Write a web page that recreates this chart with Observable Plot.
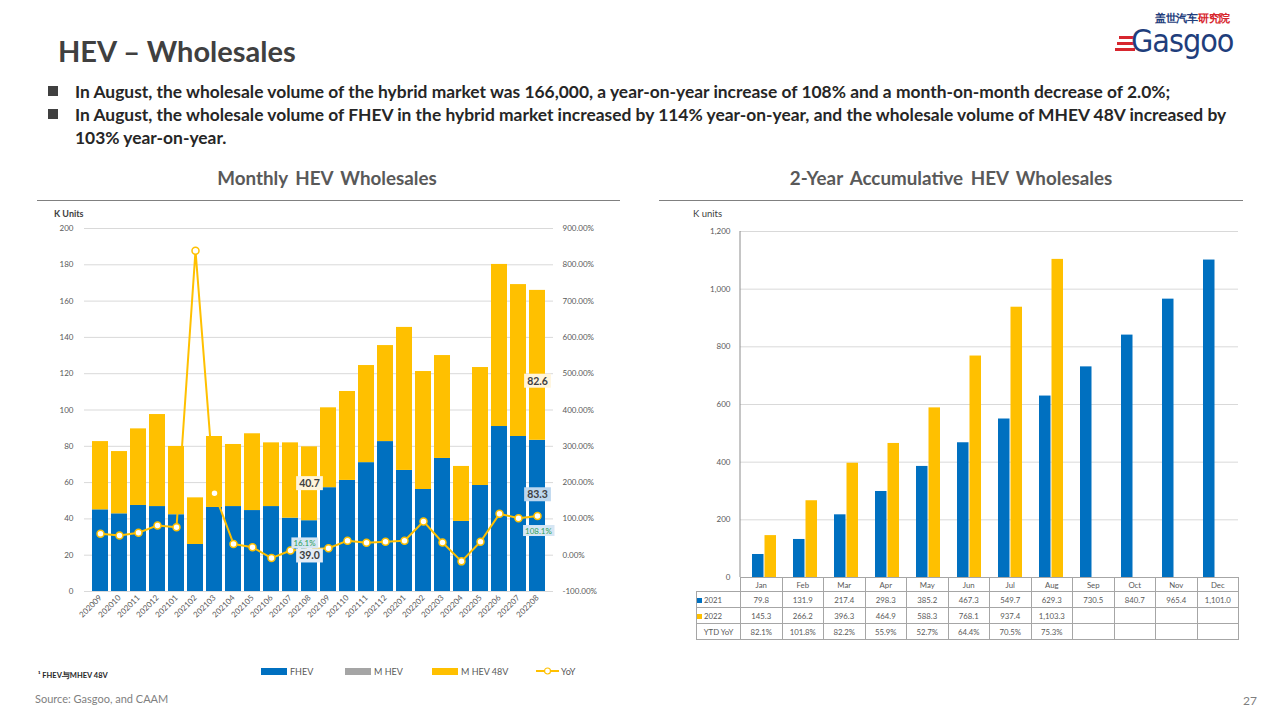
<!DOCTYPE html>
<html><head><meta charset="utf-8">
<script src="https://cdn.jsdelivr.net/npm/d3@7"></script>
<script src="https://cdn.jsdelivr.net/npm/@observablehq/plot@0.6"></script>
<style>
body{margin:0;background:#fff;font-family:Lato,"Open Sans",sans-serif;}
#page{position:relative;width:1280px;height:720px;overflow:hidden;background:#fff;}
.abs{position:absolute;white-space:nowrap;}
.sq{position:absolute;width:10px;height:10px;background:#404040;}
.sechead{position:absolute;transform:translateX(-50%);font-size:18.8px;line-height:1;font-weight:700;color:#595959;word-spacing:3px;}
.hline{position:absolute;height:0;border-top:1.5px solid #808080;}
table.tb{position:absolute;border-collapse:collapse;table-layout:fixed;font-size:7.8px;color:#595959;}
table.tb td{border:1px solid #a6a6a6;text-align:center;padding:0;height:15px;}
table.tb tr.hd td{height:13px;}
.key{display:inline-block;width:5px;height:5px;margin-right:2px;vertical-align:middle;}
.leg{position:absolute;font-size:9px;color:#595959;top:666px;}
.sw{position:absolute;height:7px;width:26px;top:668px;}
</style></head>
<body><div id="page">
  <div class="abs" style="left:58px;top:36px;font-size:29px;line-height:1;font-weight:700;color:#404040;">HEV – Wholesales</div>
  <div class="abs" style="left:1155px;top:12px;font-size:11px;line-height:1;font-weight:700;color:#1f3e7c;letter-spacing:-0.3px;">盖世汽车<span style="color:#d7262e">研究院</span></div>
  <div class="abs" style="left:1119px;top:36px;width:16px;height:3px;background:#d7262e;"></div>
  <div class="abs" style="left:1117px;top:42px;width:18px;height:3px;background:#d7262e;"></div>
  <div class="abs" style="left:1115px;top:48px;width:20px;height:3px;background:#d7262e;"></div>
  <div class="abs" style="left:1131px;top:25px;font-size:32px;line-height:1;color:#1f3e7c;font-family:'DejaVu Sans Condensed','Liberation Sans Narrow',sans-serif;letter-spacing:-1px;">Gasgoo</div>

  <div class="sq" style="left:48px;top:86px;"></div>
  <div class="sq" style="left:48px;top:109px;"></div>
  <div class="abs" style="left:75px;top:80px;font-size:17.4px;line-height:23px;font-weight:700;color:#262626;">In August, the wholesale volume of the hybrid market was 166,000, a year-on-year increase of 108% and a month-on-month decrease of 2.0%;<br>In August, the wholesale volume of FHEV in the hybrid market increased by 114% year-on-year, and the wholesale volume of MHEV 48V increased by<br>103% year-on-year.</div>

  <div class="sechead" style="left:327px;top:169px;">Monthly HEV Wholesales</div>
  <div class="sechead" style="left:951px;top:169px;">2-Year Accumulative HEV Wholesales</div>
  <div class="hline" style="left:37px;width:583px;top:200px;"></div>
  <div class="hline" style="left:659px;width:584px;top:200px;"></div>

  <div class="abs" style="left:54px;top:208px;font-size:9px;font-weight:700;color:#404040;">K Units</div>
  <div class="abs" style="left:693px;top:208px;font-size:9.5px;color:#404040;">K units</div>

  <div id="left" class="abs" style="left:30px;top:205px;"></div>
  <div id="right" class="abs" style="left:660px;top:205px;"></div>
  <div id="legend"></div>
  <div id="table"></div>

  <div class="abs" style="left:38px;top:671px;font-size:7.5px;font-weight:700;color:#262626;">¹ FHEV与MHEV 48V</div>
  <div class="abs" style="left:35px;top:692px;font-size:11px;color:#7f7f7f;">Source: Gasgoo, and CAAM</div>
  <div class="abs" style="left:1243px;top:693px;font-size:12px;color:#7f7f7f;">27</div>
</div>
<script>
// ---------- data: monthly HEV wholesales (K units) ----------
const months = ["202009","202010","202011","202012","202101","202102","202103","202104","202105","202106","202107","202108",
                "202109","202110","202111","202112","202201","202202","202203","202204","202205","202206","202207","202208"];
const fhev   = [45.0,42.8,47.4,46.8,42.3,25.9,46.3,46.8,44.6,46.8,40.4,39.0,57.2,61.2,71.0,82.6,66.7,56.2,73.3,38.6,58.4,90.9,85.4,83.3];
const mhev   = [0,0,0,0,0,0,0,0,0,0,0,0,0,0,0,0,0,0,0,0,0,0,0,0];
const mhev48 = [37.6,34.3,42.2,50.7,37.6,25.7,39.1,34.2,42.3,35.1,41.5,40.7,44.0,49.0,53.5,52.9,78.8,65.0,56.7,30.3,65.0,89.3,83.7,82.6];
const yoy    = [59,54,62,82,77,839,171,31,22,-8,13,16.1,19,40,34,37,40,93,35,-17,37,114,102,108.1];
const seriesNames  = ["FHEV","MHEV","MHEV 48V"];
const seriesColors = ["#0070c0","#a5a5a5","#ffc000"];
const leftTicks  = [0,20,40,60,80,100,120,140,160,180,200];
const rightTicks = [-100,0,100,200,300,400,500,600,700,800,900];

// ---------- data: cumulative ----------
const months2 = ["Jan","Feb","Mar","Apr","May","Jun","Jul","Aug","Sep","Oct","Nov","Dec"];
const cum2021 = [79.8,131.9,217.4,298.3,385.2,467.3,549.7,629.3,730.5,840.7,965.4,1101.0];
const cum2022 = [145.3,266.2,396.3,464.9,588.3,768.1,937.4,1103.3];
const ytdYoy  = [82.1,101.8,82.2,55.9,52.7,64.4,70.5,75.3];
const yearNames = ["2021","2022"];
const cumTicks = [0,200,400,600,800,1000,1200];

const yellowLine = "#ffc000";
const toL = p => (p + 100) * 0.2;  // secondary (%) axis mapped into primary units

// ---------- left chart ----------
const stackData = months.flatMap((m,i) => [
  {month:m, series:seriesNames[0], v:fhev[i]},
  {month:m, series:seriesNames[1], v:mhev[i]},
  {month:m, series:seriesNames[2], v:mhev48[i]}
]);
const yoyData = months.map((m,i) => ({month:m, yoy:yoy[i]}));
const iA = months.indexOf("202108"), iB = months.indexOf("202208");
const lab = (i, y, t) => [{month:months[i], y, t}];

const txt = {fontSize:10.5, fontWeight:700, fill:"#404040"};
const pct = {fontSize:8, fill:"#2ea05a"};
const labelMarks = [
  ["lbl-y1", "#fff5dc", 3, 1, Plot.text(lab(iA, fhev[iA] + mhev48[iA]/2, mhev48[iA].toFixed(1)), {x:"month", y:"y", text:"t", ...txt, ariaDescription:"lbl-y1"})],
  ["lbl-y2", "#fff5dc", 3, 1, Plot.text(lab(iB, fhev[iB] + mhev48[iB]/2, mhev48[iB].toFixed(1)), {x:"month", y:"y", text:"t", dy:16, ...txt, ariaDescription:"lbl-y2"})],
  ["lbl-b1", "#e3ecf6", 3, 1, Plot.text(lab(iA, fhev[iA]/2, fhev[iA].toFixed(1)), {x:"month", y:"y", text:"t", ...txt, ariaDescription:"lbl-b1"})],
  ["lbl-b2", "#bdd7ee", 3, 1, Plot.text(lab(iB, fhev[iB]/2, fhev[iB].toFixed(1)), {x:"month", y:"y", text:"t", dy:-21, ...txt, ariaDescription:"lbl-b2"})],
  ["lbl-p1", "#d6e6f4", 2, 0.5, Plot.text(lab(iA, toL(yoy[iA]), yoy[iA].toFixed(1)+"%"), {x:"month", y:"y", text:"t", dx:-5, dy:-6, ...pct, ariaDescription:"lbl-p1"})],
  ["lbl-p2", "#d6e6f4", 2, 0.5, Plot.text(lab(iB, toL(yoy[iB]), yoy[iB].toFixed(1)+"%"), {x:"month", y:"y", text:"t", dx:1, dy:15, ...pct, ariaDescription:"lbl-p2"})]
];

const leftChart = Plot.plot({
  width:600, height:440, marginLeft:54, marginRight:77, marginTop:23, marginBottom:54,
  style:{fontFamily:"Lato, sans-serif", fontSize:"8px", color:"#595959", background:"transparent"},
  x:{domain:months, paddingInner:0.18, paddingOuter:0.09, label:null},
  y:{domain:[0,200], label:null},
  color:{domain:seriesNames, range:seriesColors},
  marks:[
    Plot.gridY(leftTicks, {stroke:"#d9d9d9", strokeOpacity:1}),
    Plot.barY(stackData, {x:"month", y:"v", fill:"series", order:seriesNames}),
    Plot.axisY(leftTicks, {anchor:"left", tickSize:0, tickPadding:11, label:null}),
    Plot.axisY(rightTicks.map(toL), {anchor:"right", tickSize:0, tickPadding:9, label:null,
      tickFormat: d => (Math.round(d/0.2) - 100).toFixed(2) + "%"}),
    Plot.axisX({anchor:"bottom", tickSize:0, tickPadding:5, tickRotate:-45, label:null}),
    Plot.line(yoyData, {x:"month", y:d => toL(d.yoy), stroke:yellowLine, strokeWidth:2}),
    Plot.dot(yoyData, {x:"month", y:d => toL(d.yoy), r:3.5, fill:"#fff", stroke:yellowLine, strokeWidth:1.5}),
    ...labelMarks.map(d => d[4])
  ]
});
document.getElementById("left").appendChild(leftChart);

// ---------- right chart ----------
const d21 = months2.map((m,i) => ({m, v:cum2021[i]}));
const d22 = cum2022.map((v,i) => ({m:months2[i], v}));
const rightChart = Plot.plot({
  width:590, height:380, marginLeft:80, marginRight:12, marginTop:26, marginBottom:8,
  style:{fontFamily:"Lato, sans-serif", fontSize:"8px", color:"#595959", background:"transparent"},
  x:{domain:months2, paddingInner:0.42, paddingOuter:0.21, axis:null},
  y:{domain:[0,1200], axis:null},
  marks:[
    Plot.gridY(cumTicks.slice(1), {stroke:"#d9d9d9", strokeOpacity:1}),
    Plot.barY(d21, {x:"m", y:"v", fill:seriesColors[0], insetRight:12.5}),
    Plot.barY(d22, {x:"m", y:"v", fill:seriesColors[2], insetLeft:12.5}),
    Plot.axisY(cumTicks, {anchor:"left", tickSize:0, tickPadding:10, tickFormat:d3.format(","), label:null})
  ]
});
document.getElementById("right").appendChild(rightChart);
{
  const ys = rightChart.scale("y");
  d3.select(rightChart).append("line")
    .attr("x1",80).attr("x2",80).attr("y1",ys.apply(1200)).attr("y2",ys.apply(0))
    .attr("stroke","#8c8c8c").attr("stroke-width",1);
}

// ---------- label backgrounds from rendered text boxes ----------
function addBg(groups, fill, px, py){
  groups.selectAll("text").each(function(){
    const b = this.getBBox();
    const r = document.createElementNS("http://www.w3.org/2000/svg","rect");
    r.setAttribute("x", b.x - px); r.setAttribute("y", b.y - py);
    r.setAttribute("width", b.width + 2*px); r.setAttribute("height", b.height + 2*py);
    r.setAttribute("fill", fill);
    const tr = this.getAttribute("transform"); if (tr) r.setAttribute("transform", tr);
    this.parentNode.insertBefore(r, this);
  });
}
{
  const svg = d3.select(leftChart);
  let textGroups = svg.selectAll('g[aria-label="text"]').nodes();
  labelMarks.forEach((d, k) => {
    let g = svg.selectAll(`g[aria-description="${d[0]}"]`);
    if (g.empty() && textGroups[k]) g = d3.select(textGroups[k]);
    addBg(g, d[1], d[2], d[3]);
  });
}

// ---------- legend ----------
const legend = document.getElementById("legend");
const legX = [261, 345, 432];
seriesNames.forEach((s,i) => {
  legend.insertAdjacentHTML("beforeend",
    `<div class="sw" style="left:${legX[i]}px;background:${seriesColors[i]}"></div>` +
    `<div class="leg" style="left:${legX[i]+29}px">${s.replace("MHEV","M HEV")}</div>`);
});
legend.insertAdjacentHTML("beforeend",
  `<svg class="abs" style="left:536px;top:666px" width="24" height="10"><line x1="0" x2="23" y1="5" y2="5" stroke="${yellowLine}" stroke-width="2"/><circle cx="11.5" cy="5" r="3" fill="#fff" stroke="${yellowLine}" stroke-width="1.2"/></svg>` +
  `<div class="leg" style="left:561px">YoY</div>`);

// ---------- table ----------
const fmt = d3.format(",.1f");
let html = `<table class="tb" style="left:696px;top:577px;width:542px;"><colgroup><col style="width:44px">${months2.map(()=>'<col style="width:41.5px">').join("")}</colgroup>`;
html += `<tr class="hd"><td style="border:none;border-right:1px solid #a6a6a6"></td>${months2.map(m=>`<td>${m}</td>`).join("")}</tr>`;
html += `<tr><td style="text-align:left"><span class="key" style="background:${seriesColors[0]}"></span>${yearNames[0]}</td>${months2.map((m,i)=>`<td>${cum2021[i]!=null?fmt(cum2021[i]):""}</td>`).join("")}</tr>`;
html += `<tr><td style="text-align:left"><span class="key" style="background:${seriesColors[2]}"></span>${yearNames[1]}</td>${months2.map((m,i)=>`<td>${cum2022[i]!=null?fmt(cum2022[i]):""}</td>`).join("")}</tr>`;
html += `<tr><td>YTD YoY</td>${months2.map((m,i)=>`<td>${ytdYoy[i]!=null?ytdYoy[i].toFixed(1)+"%":""}</td>`).join("")}</tr>`;
html += `</table>`;
document.getElementById("table").innerHTML = html;
</script>
</body></html>
